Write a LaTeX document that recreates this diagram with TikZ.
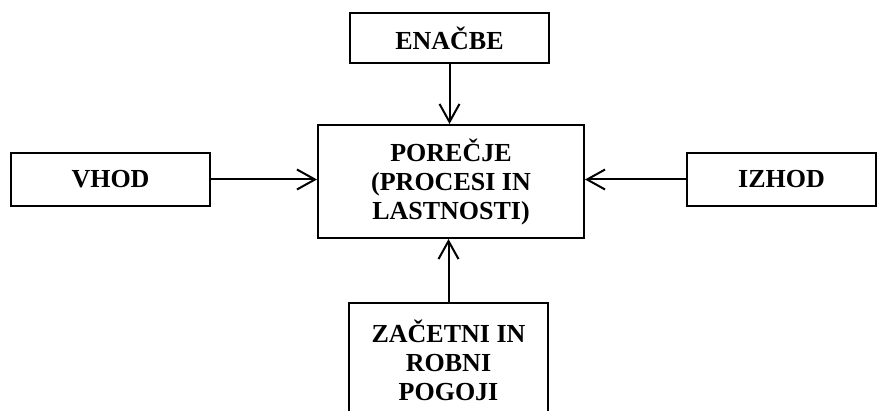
\documentclass[tikz,border=0pt]{standalone}
\usepackage{fontspec}
\setmainfont{Liberation Serif}
\usetikzlibrary{arrows.meta,calc}

\begin{document}
\begin{tikzpicture}[x=0.5pt,y=-0.5pt,
        box/.style={draw,line width=1pt,inner sep=2pt,align=center,
            font=\fontsize{13}{14.5}\selectfont\bfseries},
        flow/.style={line width=1pt,-{Straight Barb[length=9pt,width=10pt,line width=1pt]}}]
            \clip (0,0) rectangle (878,411);
            \node[box,minimum width=99.5pt,minimum height=25pt] (enacbe) at (449.5,38) {ENAČBE};
            \node[box,minimum width=133pt,minimum height=56.5pt] (porecje) at (451,181.5) {POREČJE\\(PROCESI IN\\LASTNOSTI)};
            \node[box,minimum width=99.5pt,minimum height=26.5pt] (vhod) at (110.5,179.5) {VHOD};
            \node[box,minimum width=94.5pt,minimum height=26.5pt] (izhod) at (781.5,179.5) {IZHOD};
            \node[box,minimum width=99.5pt,minimum height=56.5pt] (pogoji) at (448.5,360) {ZAČETNI IN\\ROBNI\\POGOJI};
            \draw[flow] (enacbe.south) -- (porecje.north -| enacbe.south);
            \draw[flow] (vhod.east) -- (porecje.west |- vhod.east);
            \draw[flow] (izhod.west) -- (porecje.east |- izhod.west);
            \draw[flow] (pogoji.north) -- (porecje.south -| pogoji.north);
        \end{tikzpicture}
\end{document}
